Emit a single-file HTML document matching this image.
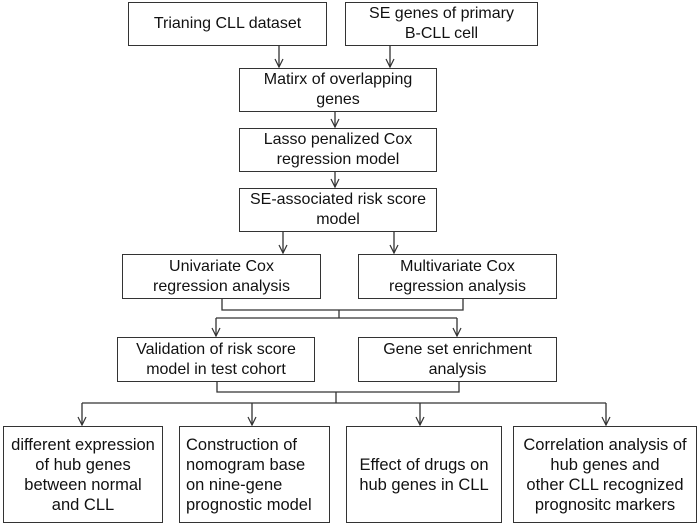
<!DOCTYPE html>
<html><head><style>
body{margin:0;width:700px;height:525px;background:#fff;position:relative;overflow:hidden;font-family:"Liberation Sans",Arial,sans-serif;color:#111}
.b{position:absolute;border:1.5px solid #333;box-sizing:border-box;display:flex;align-items:center;justify-content:center;text-align:center;font-size:16px;line-height:20px;white-space:nowrap}
.bt{font-size:16.5px;line-height:20px}
svg{position:absolute;left:0;top:0}
</style></head><body>
<svg width="700" height="525" stroke="#333" stroke-width="1.3" fill="none">
<defs><marker id="a" markerWidth="12" markerHeight="12" refX="5" refY="9" orient="0" markerUnits="userSpaceOnUse"><path d="M1,1 L5,9 L9,1" stroke="#333" stroke-width="1.2" fill="none"/></marker></defs>
<line x1="279" y1="45" x2="279" y2="67" marker-end="url(#a)"/>
<line x1="390" y1="45" x2="390" y2="67" marker-end="url(#a)"/>
<line x1="335" y1="111" x2="335" y2="127" marker-end="url(#a)"/>
<line x1="335" y1="171" x2="335" y2="187" marker-end="url(#a)"/>
<line x1="283" y1="231" x2="283" y2="253" marker-end="url(#a)"/>
<line x1="394" y1="231" x2="394" y2="253" marker-end="url(#a)"/>
<polyline points="222,298 222,310 463,310 463,298"/>
<line x1="339" y1="310" x2="339" y2="318"/>
<line x1="216" y1="318" x2="457" y2="318"/>
<line x1="216" y1="318" x2="216" y2="336" marker-end="url(#a)"/>
<line x1="457" y1="318" x2="457" y2="336" marker-end="url(#a)"/>
<polyline points="217,381 217,392 459,392 459,381"/>
<line x1="336" y1="392" x2="336" y2="403"/>
<line x1="82" y1="403" x2="606" y2="403"/>
<line x1="82" y1="403" x2="82" y2="425" marker-end="url(#a)"/>
<line x1="252" y1="403" x2="252" y2="425" marker-end="url(#a)"/>
<line x1="420" y1="403" x2="420" y2="425" marker-end="url(#a)"/>
<line x1="606" y1="403" x2="606" y2="425" marker-end="url(#a)"/>
</svg>
<div class="b" style="left:128px;top:2px;width:199px;height:44px">Trianing CLL dataset</div>
<div class="b" style="left:345px;top:2px;width:193px;height:44px">SE genes of primary<br>B-CLL cell</div>
<div class="b" style="left:239px;top:68px;width:198px;height:44px">Matirx of overlapping<br>genes</div>
<div class="b" style="left:239px;top:128px;width:198px;height:44px">Lasso penalized Cox<br>regression model</div>
<div class="b" style="left:239px;top:188px;width:198px;height:44px">SE-associated risk score<br>model</div>
<div class="b" style="left:122px;top:254px;width:199px;height:45px">Univariate Cox<br>regression analysis</div>
<div class="b" style="left:358px;top:254px;width:199px;height:45px">Multivariate Cox<br>regression analysis</div>
<div class="b" style="left:117px;top:337px;width:198px;height:45px">Validation of risk score<br>model in test cohort</div>
<div class="b" style="left:358px;top:337px;width:199px;height:45px">Gene set enrichment<br>analysis</div>
<div class="b bt" style="left:3px;top:426px;width:160px;height:97px">different expression<br>of hub genes<br>between normal<br>and CLL</div>
<div class="b bt" style="left:179px;top:426px;width:151px;height:97px;justify-content:flex-start;text-align:left;padding-left:6px">Construction of<br>nomogram base<br>on nine-gene<br>prognostic model</div>
<div class="b bt" style="left:346px;top:426px;width:156px;height:97px">Effect of drugs on<br>hub genes in CLL</div>
<div class="b bt" style="left:513px;top:426px;width:184px;height:97px">Correlation analysis of<br>hub genes and<br>other CLL recognized<br>prognositc markers</div>
</body></html>
